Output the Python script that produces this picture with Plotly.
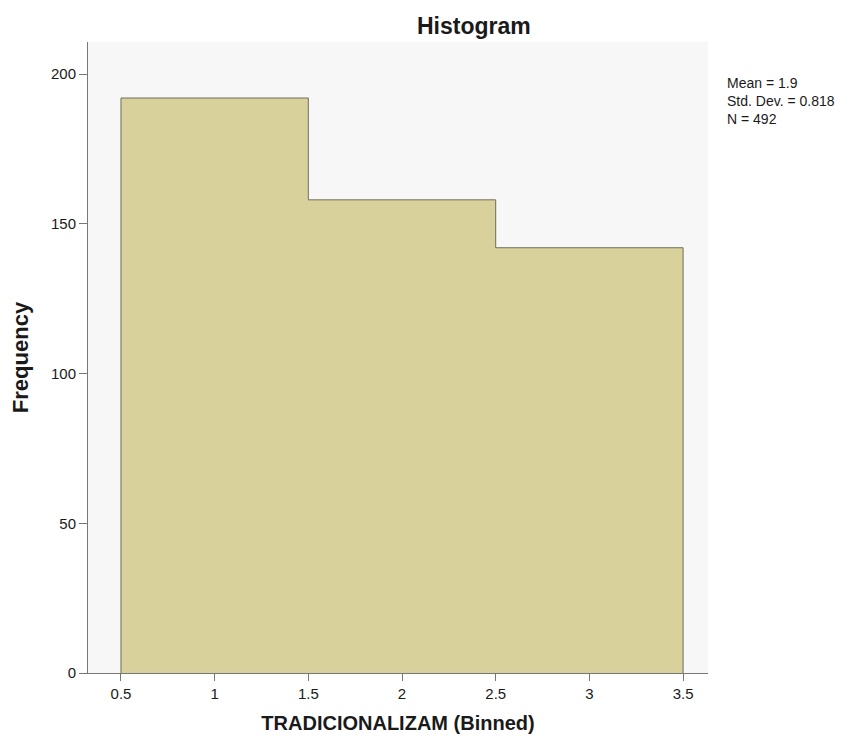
import plotly.graph_objects as go

bin_centers = [1, 2, 3]
bin_edges = [0.5, 1.5, 2.5, 3.5]
frequencies = [192, 158, 142]
x_ticks = [0.5, 1, 1.5, 2, 2.5, 3, 3.5]
x_tick_labels = ["0.5", "1", "1.5", "2", "2.5", "3", "3.5"]
y_ticks = [0, 50, 100, 150, 200]
stats_lines = ["Mean = 1.9", "Std. Dev. = 0.818", "N = 492"]

FONT = "Liberation Sans, Arial, Helvetica, sans-serif"

fig = go.Figure()
fig.add_trace(go.Bar(
    x=bin_centers, y=frequencies, width=1,
    marker=dict(color="#d9d19c", line=dict(width=0)),
    showlegend=False, hoverinfo="x+y",
))
# outer step outline of the histogram (no inner dividers)
outline_x = [bin_edges[0]] + bin_edges + [bin_edges[-1]]
outline_y = [0] + frequencies + [frequencies[-1], 0]
fig.add_trace(go.Scatter(
    x=outline_x, y=outline_y, mode="lines", line=dict(shape="hv", color="#6f6d58", width=1),
    showlegend=False, hoverinfo="skip",
))

fig.update_layout(
    width=857, height=742,
    margin=dict(l=80, r=157, t=34, b=77),
    paper_bgcolor="white",
    plot_bgcolor="#f7f7f7",
    font=dict(family=FONT, color="#1a1a1a"),
    bargap=0,
)
fig.update_xaxes(
    range=[0.324, 3.633], tickvals=x_ticks, ticktext=x_tick_labels,
    showgrid=False, zeroline=False, showline=True, linecolor="#777", linewidth=1,
    ticks="outside", ticklen=7, tickcolor="#777", tickfont=dict(size=15),
    ticklabelstandoff=0,
    title=dict(text="<b>TRADICIONALIZAM (Binned)</b>", font=dict(size=20), standoff=14),
)
fig.update_yaxes(
    range=[0, 210.7], tickvals=y_ticks,
    showgrid=False, zeroline=False, showline=True, linecolor="#777", linewidth=1,
    ticks="outside", ticklen=8, tickcolor="#777", tickfont=dict(size=15),
    title=dict(text="<b>Frequency</b>", font=dict(size=22), standoff=16),
)
fig.add_annotation(
    text="<b>Histogram</b>", xref="paper", yref="paper", x=0.622, y=1.0,
    xanchor="center", yanchor="bottom", showarrow=False, font=dict(size=23), yshift=1,
)
fig.add_annotation(
    text="<br>".join(stats_lines), xref="paper", yref="paper", x=1.0, y=1.0,
    xanchor="left", yanchor="top", align="left", showarrow=False,
    font=dict(size=14), xshift=18, yshift=-32, borderpad=0,
)
fig.write_html("out.html")
